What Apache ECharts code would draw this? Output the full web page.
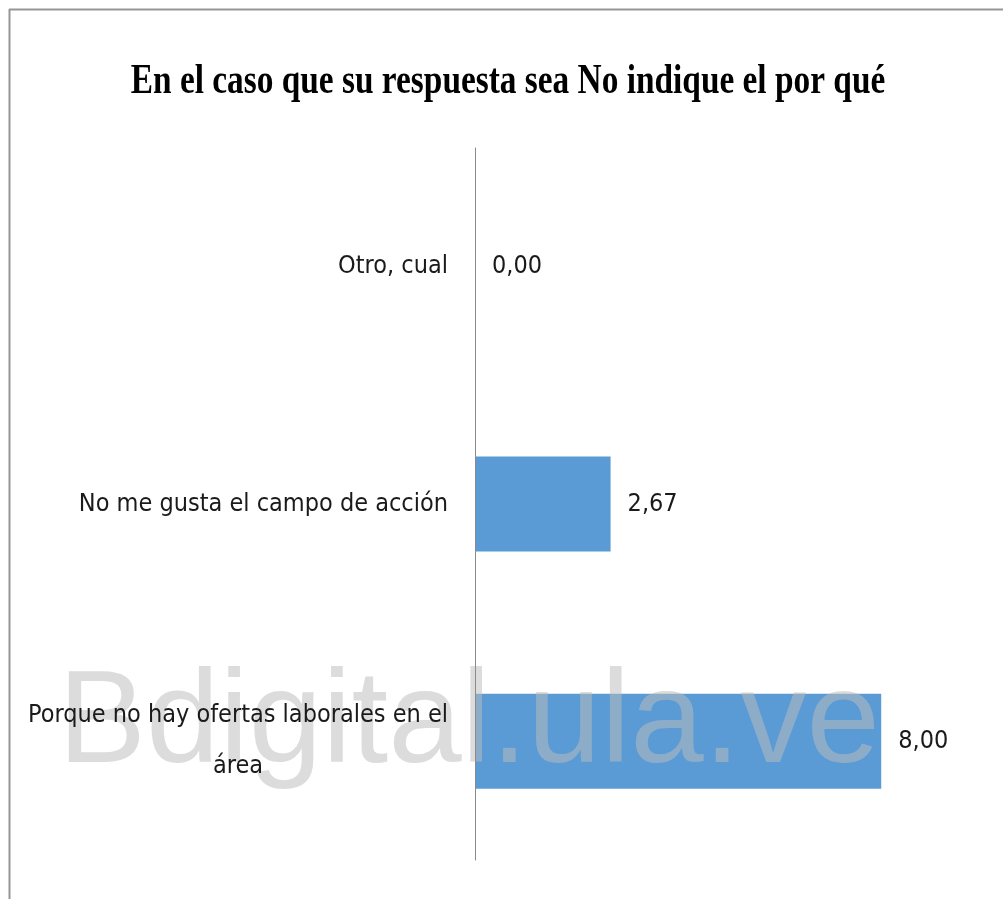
<!DOCTYPE html>
<html>
<head>
<meta charset="utf-8">
<script src="https://cdn.jsdelivr.net/npm/echarts@6/dist/echarts.min.js"></script>
<style>
  html, body { margin: 0; padding: 0; background: #fff; }
  #chart { width: 1003px; height: 899px; }
</style>
</head>
<body>
<div id="chart"></div>
<script>
// categories listed bottom to top, as the category axis draws them
const categories = [
  'Porque no hay ofertas laborales en el\nárea',
  'No me gusta el campo de acción',
  'Otro, cual'
]
const values = [8.00, 2.67, 0.00]
const titleText = 'En el caso que su respuesta sea No indique el por qué'
const watermark = 'Bdigital.ula.ve'

const labelFont = '"Liberation Sans Narrow", "DejaVu Sans Condensed", "Liberation Sans", sans-serif'
const labelSize = 25

const myChart = echarts.init(document.getElementById('chart'))

const options = {
  backgroundColor: '#fff',
  animation: false,
  grid: { left: 475, top: 148, bottom: 39, right: 71, outerBoundsMode: 'none', containLabel: false },
  xAxis: {
    type: 'value',
    min: 0,
    max: 9,
    show: false
  },
  yAxis: {
    type: 'category',
    data: categories,
    z: 10,
    axisLine: { show: true, lineStyle: { color: '#8a8a8a', width: 1 } },
    axisTick: { show: false },
    axisLabel: {
      margin: 27,
      color: '#1a1a1a',
      fontFamily: labelFont,
      fontSize: labelSize,
      lineHeight: 51,
      // every line centred inside its own label block
      formatter: (v) => v.split('\n').map((s) => '{c|' + s + '}').join('\n'),
      rich: {
        c: { align: 'center', fontFamily: labelFont, fontSize: labelSize, lineHeight: 51, color: '#1a1a1a' }
      }
    }
  },
  series: [{
    type: 'bar',
    data: values,
    barWidth: '40%',
    z: 2,
    itemStyle: { color: '#5b9bd5' },
    label: {
      show: true,
      position: 'right',
      distance: 17,
      color: '#1a1a1a',
      fontFamily: labelFont,
      fontSize: labelSize,
      formatter: (p) => p.value.toFixed(2).replace('.', ',')
    }
  }],
  graphic: [
    // frame lines at the top and left
    { type: 'line', shape: { x1: 9, y1: 9.5, x2: 1003, y2: 9.5 }, style: { stroke: '#959595', lineWidth: 2 } },
    { type: 'line', shape: { x1: 9.5, y1: 9, x2: 9.5, y2: 899 }, style: { stroke: '#959595', lineWidth: 2 } },
    {
      type: 'text',
      x: 508,
      y: 82,
      scaleX: 0.794,
      style: {
        text: titleText,
        textAlign: 'center',
        textVerticalAlign: 'middle',
        font: 'bold 42px "Liberation Serif", "DejaVu Serif", serif',
        fill: '#000'
      }
    },
    {
      // watermark sits over the bars but under the category labels
      type: 'text',
      x: 58,
      y: 726,
      z: 5,
      silent: true,
      style: {
        text: watermark,
        textAlign: 'left',
        textVerticalAlign: 'middle',
        font: '132px "Liberation Sans", Arial, sans-serif',
        fill: 'rgba(187,187,187,0.52)'
      }
    }
  ]
}

myChart.setOption(options)
</script>
</body>
</html>
